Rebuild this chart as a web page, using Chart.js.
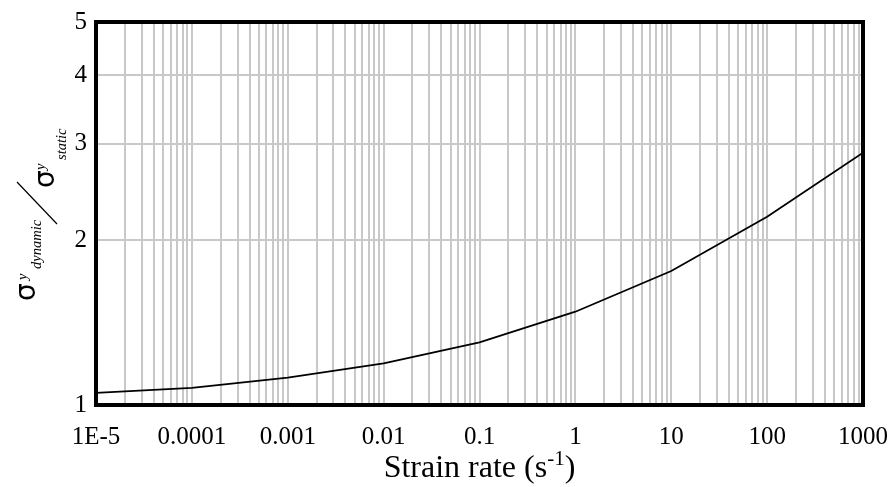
<!DOCTYPE html>
<html><head><meta charset="utf-8">
<script src="https://cdn.jsdelivr.net/npm/chart.js@4.4.1/dist/chart.umd.min.js"></script>
<style>html,body{margin:0;padding:0;background:#fff}#wrap{width:893px;height:487px}</style>
</head><body><div id="wrap"><canvas id="c" width="893" height="487"></canvas></div>
<script>
// ---- data ----
const strainRates = [1e-5, 1e-4, 1e-3, 1e-2, 1e-1, 1, 10, 100, 1000];
const stressRatio = [1.052, 1.075, 1.122, 1.191, 1.301, 1.48, 1.756, 2.206, 2.886];
const xTickLabels = ['1E-5', '0.0001', '0.001', '0.01', '0.1', '1', '10', '100', '1000'];
const yTickValues = [1, 2, 3, 4, 5];
const yTickLabels = ['1', '2', '3', '4', '5'];
const gridMultipliers = [1, 2, 3, 4, 5, 6, 7, 8, 9];

// vertical grid positions (every 1..9 within each decade)
const xGridValues = [];
for (let i = 0; i < strainRates.length - 1; i++) {
  for (const m of gridMultipliers) xGridValues.push(Number((strainRates[i] * m).toPrecision(6)));
}
xGridValues.push(strainRates[strainRates.length - 1]);

const points = strainRates.map((x, i) => ({ x, y: stressRatio[i] }));

const SERIF = '"Liberation Serif", "Times New Roman", serif';

function labelFor(values, labels, v) {
  for (let i = 0; i < values.length; i++) {
    if (Math.abs(Math.log10(values[i]) - Math.log10(v)) < 1e-6) return labels[i];
  }
  return '';
}

const framePlugin = {
  id: 'frame',
  afterDatasetsDraw(chart) {
    const { ctx, chartArea: a } = chart;
    ctx.save();
    ctx.strokeStyle = '#000';
    ctx.lineWidth = 4;
    ctx.strokeRect(a.left, a.top, a.right - a.left, a.bottom - a.top);
    ctx.restore();
  }
};

function rt(ctx, text, font, baseX, startY) {
  ctx.save();
  ctx.translate(baseX, startY);
  ctx.rotate(-Math.PI / 2);
  ctx.font = font;
  ctx.textAlign = 'left';
  ctx.textBaseline = 'alphabetic';
  ctx.fillStyle = '#000';
  ctx.fillText(text, 0, 0);
  ctx.restore();
}

const titlesPlugin = {
  id: 'titles',
  afterDraw(chart) {
    const { ctx, chartArea: a } = chart;
    // Y axis title: sigma^y_dynamic / sigma^y_static (rotated)
    const sig = '28px "DejaVu Sans", sans-serif';
    const it = 'italic 14.5px ' + SERIF;
    rt(ctx, 'σ', sig, 35, 301);
    rt(ctx, 'y', it, 26.5, 280);
    rt(ctx, 'dynamic', it, 40.5, 269);
    ctx.save();
    ctx.strokeStyle = '#000';
    ctx.lineWidth = 1.2;
    ctx.beginPath();
    ctx.moveTo(17, 182);
    ctx.lineTo(57, 224);
    ctx.stroke();
    ctx.restore();
    rt(ctx, 'σ', sig, 54, 188);
    rt(ctx, 'y', it, 45, 170);
    rt(ctx, 'static', it, 65.5, 160);

    // X axis title: Strain rate (s^-1)
    const mainF = '32px ' + SERIF;
    const supF = '21px ' + SERIF;
    const p1 = 'Strain rate (s', p2 = '-1', p3 = ')';
    ctx.save();
    ctx.fillStyle = '#000';
    ctx.textBaseline = 'alphabetic';
    ctx.textAlign = 'left';
    ctx.font = mainF; const w1 = ctx.measureText(p1).width, w3 = ctx.measureText(p3).width;
    ctx.font = supF; const w2 = ctx.measureText(p2).width;
    const total = w1 + w2 + w3;
    let x = (a.left + a.right) / 2 - total / 2;
    const base = 477;
    ctx.font = mainF; ctx.fillText(p1, x, base); x += w1;
    ctx.font = supF; ctx.fillText(p2, x, base - 12); x += w2;
    ctx.font = mainF; ctx.fillText(p3, x, base);
    ctx.restore();
  }
};

new Chart(document.getElementById('c'), {
  type: 'line',
  data: {
    datasets: [{
      data: points,
      borderColor: '#000',
      borderWidth: 1.8,
      pointRadius: 0,
      tension: 0,
      fill: false
    }]
  },
  options: {
    responsive: false,
    animation: false,
    events: [],
    layout: { padding: { left: 0, top: 22, right: 30, bottom: 0 } },
    plugins: { legend: { display: false }, tooltip: { enabled: false } },
    scales: {
      x: {
        type: 'logarithmic',
        min: strainRates[0],
        max: strainRates[strainRates.length - 1],
        afterBuildTicks(scale) { scale.ticks = xGridValues.map(v => ({ value: v })); },
        afterFit(scale) { scale.height = 82; scale.paddingLeft = 0; scale.paddingRight = 0; },
        grid: { color: '#c8c8c8', lineWidth: 2, drawTicks: false },
        border: { display: false },
        ticks: {
          autoSkip: false, maxRotation: 0, minRotation: 0, padding: 17,
          color: '#000', font: { family: SERIF, size: 25 },
          callback: (v) => labelFor(strainRates, xTickLabels, v)
        }
      },
      y: {
        type: 'logarithmic',
        min: yTickValues[0],
        max: yTickValues[yTickValues.length - 1],
        afterBuildTicks(scale) { scale.ticks = yTickValues.map(v => ({ value: v })); },
        afterFit(scale) { scale.width = 96; scale.paddingTop = 0; scale.paddingBottom = 0; },
        grid: { color: '#c8c8c8', lineWidth: 2, drawTicks: false },
        border: { display: false },
        ticks: {
          autoSkip: false, padding: 9,
          color: '#000', font: { family: SERIF, size: 25 },
          callback: (v) => labelFor(yTickValues, yTickLabels, v)
        }
      }
    }
  },
  plugins: [framePlugin, titlesPlugin]
});
</script>
</body></html>
